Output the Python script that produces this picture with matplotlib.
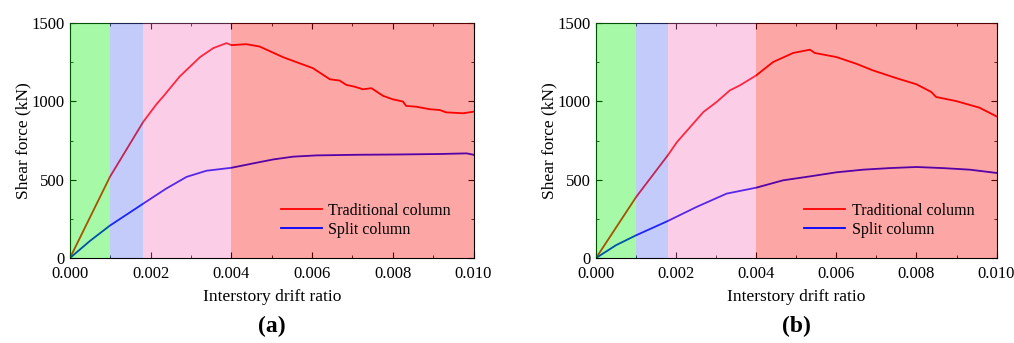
import matplotlib
matplotlib.use('Agg')
import matplotlib.pyplot as plt
from matplotlib.ticker import MultipleLocator

plt.rcParams['font.family'] = ['Liberation Serif', 'DejaVu Serif']
plt.rcParams['mathtext.fontset'] = 'stix'

# drift stage boundaries
stages = [0.0, 0.001, 0.0018, 0.004, 0.010]
stage_colors = ['#00ee00', '#516af1', '#f970bd', '#f90000']

# panel (a)
a_trad_x = [0, 0.00099, 0.00182, 0.00215, 0.00231, 0.00272, 0.00322, 0.00355, 0.00388,
            0.004, 0.00437, 0.0047, 0.00528, 0.00602, 0.00644, 0.00668, 0.00685,
            0.00705, 0.00726, 0.00747, 0.00776, 0.008, 0.00825, 0.00833, 0.00858,
            0.00891, 0.00916, 0.00932, 0.00974, 0.01]
a_trad_y = [0, 518, 871, 984, 1031, 1159, 1282, 1340, 1372,
            1359, 1365, 1350, 1282, 1212, 1141, 1133, 1105,
            1094, 1077, 1084, 1035, 1013, 999, 971, 966,
            950, 945, 930, 924, 934]
a_split_x = [0, 0.0005, 0.00099, 0.00182, 0.00239, 0.00289, 0.00338, 0.004, 0.00454,
             0.00503, 0.00553, 0.0061, 0.00710, 0.00817, 0.00916, 0.00983, 0.01]
a_split_y = [0, 110, 207, 348, 444, 518, 557, 576, 604,
             629, 647, 655, 659, 661, 664, 668, 659]

# panel (b)
b_trad_x = [0, 0.001, 0.00179, 0.00202, 0.00235, 0.00268, 0.00301, 0.00334, 0.00359,
            0.004, 0.00442, 0.00492, 0.00534, 0.00546, 0.006, 0.0065, 0.00691,
            0.00749, 0.008, 0.00837, 0.00849, 0.00899, 0.00957, 0.01]
b_trad_y = [0, 389, 655, 740, 836, 932, 996, 1070, 1102,
            1166, 1251, 1309, 1330, 1309, 1283, 1240, 1198,
            1149, 1109, 1060, 1028, 1002, 960, 904]
b_split_x = [0, 0.0005, 0.001, 0.00179, 0.00251, 0.00326, 0.004, 0.00467, 0.00534,
             0.006, 0.00667, 0.00733, 0.008, 0.00866, 0.00933, 0.01]
b_split_y = [0, 82, 145, 236, 326, 411, 449, 496, 521,
             547, 564, 574, 581, 574, 564, 543]

panels = [
    ('(a)', a_trad_x, a_trad_y, a_split_x, a_split_y, [0.069, 0.2478, 0.398, 0.685]),
    ('(b)', b_trad_x, b_trad_y, b_split_x, b_split_y, [0.5878, 0.2478, 0.395, 0.685]),
]

fig = plt.figure(figsize=(10.14, 3.43), dpi=100)

for tag, tx, ty, sx, sy, rect in panels:
    ax = fig.add_axes(rect)
    ax.plot(tx, ty, color='red', lw=1.3, label='Traditional column', zorder=2)
    ax.plot(sx, sy, color='blue', lw=1.3, label='Split column', zorder=2)
    # coloured stage bands sit over the curves, tinting them
    for i in range(len(stages) - 1):
        ax.axvspan(stages[i], stages[i + 1], color=stage_colors[i], alpha=0.35,
                   lw=0, zorder=3)
    ax.set_xlim(0, 0.010)
    ax.set_ylim(0, 1500)
    ax.xaxis.set_major_locator(MultipleLocator(0.002))
    ax.xaxis.set_minor_locator(MultipleLocator(0.001))
    ax.yaxis.set_major_locator(MultipleLocator(500))
    ax.yaxis.set_minor_locator(MultipleLocator(250))
    ax.xaxis.set_major_formatter(plt.FuncFormatter(lambda v, p: '%.3f' % v))
    ax.tick_params(which='both', direction='in', top=True, right=True, labelsize=12)
    ax.tick_params(axis='x', pad=6)
    ax.tick_params(axis='y', pad=4)
    ax.tick_params(which='major', length=4)
    ax.tick_params(which='minor', length=2.5)
    ax.set_xlabel('Interstory drift ratio', fontsize=12.5, labelpad=5)
    ax.set_ylabel('Shear force (kN)', fontsize=12.5, labelpad=0)
    leg = ax.legend(loc='lower right', bbox_to_anchor=(0.98, 0.025), frameon=False,
                    fontsize=11.5, handlelength=2.6, labelspacing=0.2, handletextpad=0.4)
    leg.set_zorder(5)
    ax.text(0.5, -0.245, tag, transform=ax.transAxes, ha='center', va='top',
            fontsize=17, fontweight='bold')

fig.savefig('out.png', dpi=100)
